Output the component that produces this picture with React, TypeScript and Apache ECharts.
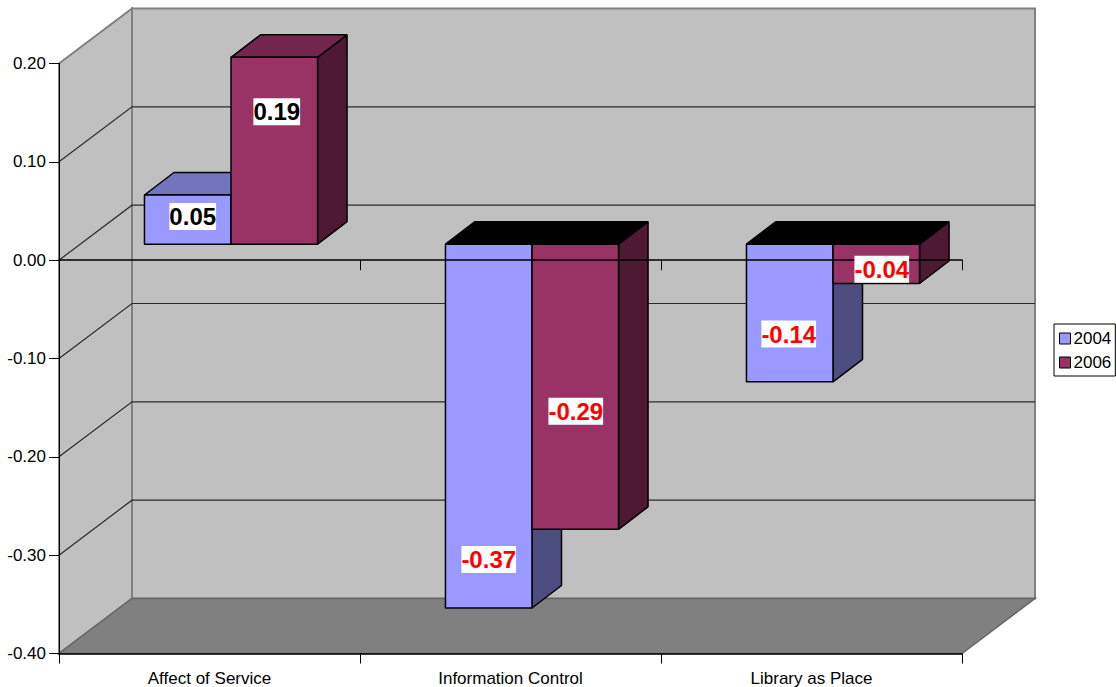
import React, { useEffect, useRef } from "react";
import * as echarts from "echarts";

const categories = ["Affect of Service", "Information Control", "Library as Place"];
const values2004 = [0.05, -0.37, -0.14];
const values2006 = [0.19, -0.29, -0.04];
const gridValues = [-0.3, -0.2, -0.1, 0, 0.1];

// Hand-placed label offsets from the centre of each bar's front face.
const labelShift2004 = [[5, -3], [0, 133.5], [-1, 21]];
const labelShift2006 = [[2.5, -39], [0.5, 24.5], [5.5, 5.5]];

const FONT = '"Liberation Sans", Arial, sans-serif';
const WALL_DX = 73;
const WALL_DY = -55;
const BAR_DX = 29.5;
const BAR_DY = -22.5;
const BAR_SHIFT_X = 21.5;
const BAR_SHIFT_Y = -16;
const BAR_RATIO = 0.2875;

const colors2004 = { front: "#9999ff", top: "#7373bf", side: "#4d4d80" };
const colors2006 = { front: "#993366", top: "#73264d", side: "#4d1933" };

// Back wall, side wall, floor and the gridlines that run across the walls.
const renderWalls = (params: any, api: any) => {
  const cs = params.coordSys;
  const l = cs.x;
  const r = cs.x + cs.width;
  const t = cs.y;
  const b = cs.y + cs.height;
  const border = { stroke: "#808080", lineWidth: 2 };
  const children: any[] = [
    {
      type: "rect",
      shape: { x: l + WALL_DX, y: t + WALL_DY, width: r - l, height: b - t },
      style: { fill: "#c0c0c0", ...border },
    },
    {
      type: "polygon",
      shape: { points: [[l, t], [l + WALL_DX, t + WALL_DY], [l + WALL_DX, b + WALL_DY], [l, b]] },
      style: { fill: "#c0c0c0", ...border },
    },
    {
      type: "polygon",
      shape: { points: [[l, b], [r, b], [r + WALL_DX, b + WALL_DY], [l + WALL_DX, b + WALL_DY]] },
      style: { fill: "#808080", stroke: "#666666", lineWidth: 1.5 },
    },
  ];
  gridValues.forEach((v) => {
    const y = api.coord([0, v])[1];
    children.push({
      type: "polyline",
      shape: { points: [[l, y], [l + WALL_DX, y + WALL_DY], [r + WALL_DX, y + WALL_DY]] },
      style: { fill: "none", stroke: "#2a2a2a", lineWidth: 1.2 },
    });
  });
  return { type: "group", children };
};

// Extruded column: seriesPos is -1 for the left column of a group, 0 for the right one.
const makeBarRenderer = (seriesPos: number, colors: typeof colors2004) => (params: any, api: any) => {
  const cat = api.value(0);
  const val = api.value(1);
  const band = api.size([1, 0])[0];
  const w = band * BAR_RATIO;
  const x0 = api.coord([cat, 0])[0] + BAR_SHIFT_X + seriesPos * w;
  const x1 = x0 + w;
  const yZero = api.coord([cat, 0])[1] + BAR_SHIFT_Y;
  const yVal = api.coord([cat, val])[1] + BAR_SHIFT_Y;
  const yTop = Math.min(yZero, yVal);
  const yBottom = Math.max(yZero, yVal);
  const edge = { stroke: "#000000", lineWidth: 1.5, lineJoin: "bevel" };
  return {
    type: "group",
    children: [
      {
        type: "polygon",
        shape: { points: [[x1, yTop], [x1 + BAR_DX, yTop + BAR_DY], [x1 + BAR_DX, yBottom + BAR_DY], [x1, yBottom]] },
        style: { fill: colors.side, ...edge },
      },
      {
        type: "polygon",
        shape: { points: [[x0, yTop], [x0 + BAR_DX, yTop + BAR_DY], [x1 + BAR_DX, yTop + BAR_DY], [x1, yTop]] },
        style: { fill: val < 0 ? "#000000" : colors.top, ...edge },
      },
      {
        type: "rect",
        shape: { x: x0, y: yTop, width: w, height: yBottom - yTop },
        style: { fill: colors.front, ...edge },
      },
    ],
  };
};

// White value tag; black for gains, red for losses.
const makeLabelRenderer = (seriesPos: number, shifts: number[][]) => (params: any, api: any) => {
  const cat = api.value(0);
  const val = api.value(1);
  const band = api.size([1, 0])[0];
  const w = band * BAR_RATIO;
  const cx = api.coord([cat, 0])[0] + BAR_SHIFT_X + seriesPos * w + w / 2;
  const cy = (api.coord([cat, 0])[1] + api.coord([cat, val])[1]) / 2 + BAR_SHIFT_Y;
  const [dx, dy] = shifts[params.dataIndex];
  return {
    type: "text",
    style: {
      x: cx + dx,
      y: cy + dy,
      text: val.toFixed(2),
      fill: val < 0 ? "#ff0000" : "#000000",
      font: `bold 24px ${FONT}`,
      align: "center",
      verticalAlign: "middle",
      backgroundColor: "#ffffff",
      padding: [2, 0, 1, 0],
    },
  };
};

const rows = (vals: number[]) => vals.map((v, i) => [i, v]);
const encode = { x: 0, y: 1 };

export default function App() {
  const ref = useRef<HTMLDivElement>(null);

  useEffect(() => {
    const chart = echarts.init(ref.current!, null, { renderer: "svg" });
    chart.setOption({
      animation: false,
      backgroundColor: "#ffffff",
      grid: { left: 59, right: 154, top: 63.5, bottom: 33.5, containLabel: false },
      legend: {
        data: ["2004", "2006"],
        orient: "vertical",
        left: 1054,
        top: 324,
        padding: [6, 4, 5, 5],
        itemWidth: 11,
        itemHeight: 11,
        itemGap: 7,
        icon: "rect",
        borderColor: "#000000",
        borderWidth: 1,
        backgroundColor: "#ffffff",
        selectedMode: false,
        textStyle: { color: "#000000", fontFamily: FONT, fontSize: 17, padding: [0, 0, 0, -2] },
        itemStyle: { borderColor: "#000000", borderWidth: 1 },
      },
      xAxis: [
        {
          type: "category",
          data: categories,
          position: "bottom",
          z: 5,
          axisLine: { onZero: false, lineStyle: { color: "#000000", width: 1.5 } },
          axisTick: { show: true, length: 10, lineStyle: { color: "#000000", width: 1 } },
          axisLabel: { color: "#000000", fontFamily: FONT, fontSize: 17, margin: 16, interval: 0 },
        },
        {
          type: "category",
          data: categories,
          position: "top",
          z: 5,
          axisLine: { onZero: true, lineStyle: { color: "#000000", width: 1.5 } },
          axisTick: { show: true, inside: true, length: 10, lineStyle: { color: "#000000", width: 1 } },
          axisLabel: { show: false },
        },
      ],
      yAxis: {
        type: "value",
        min: -0.4,
        max: 0.2,
        interval: 0.1,
        z: 5,
        axisLine: { show: true, onZero: false, lineStyle: { color: "#000000", width: 1 } },
        axisTick: { show: true, length: 10, lineStyle: { color: "#000000", width: 1 } },
        axisLabel: {
          color: "#000000",
          fontFamily: FONT,
          fontSize: 17,
          margin: 13,
          padding: [2, 0, 0, 0],
          formatter: (v: number) => v.toFixed(2),
        },
        splitLine: { show: false },
      },
      series: [
        { type: "custom", name: "walls", z: 1, silent: true, data: [[0, 0]], encode, renderItem: renderWalls },
        {
          type: "custom",
          name: "2004",
          z: 3,
          data: rows(values2004),
          encode,
          itemStyle: { color: colors2004.front },
          renderItem: makeBarRenderer(-1, colors2004),
        },
        {
          type: "custom",
          name: "2006",
          z: 3,
          data: rows(values2006),
          encode,
          itemStyle: { color: colors2006.front },
          renderItem: makeBarRenderer(0, colors2006),
        },
        { type: "custom", name: "labels2004", z: 7, silent: true, data: rows(values2004), encode, renderItem: makeLabelRenderer(-1, labelShift2004) },
        { type: "custom", name: "labels2006", z: 7, silent: true, data: rows(values2006), encode, renderItem: makeLabelRenderer(0, labelShift2006) },
      ],
    });
    return () => chart.dispose();
  }, []);

  return <div ref={ref} style={{ position: "absolute", left: 0, top: 0, width: 1116, height: 687 }} />;
}
